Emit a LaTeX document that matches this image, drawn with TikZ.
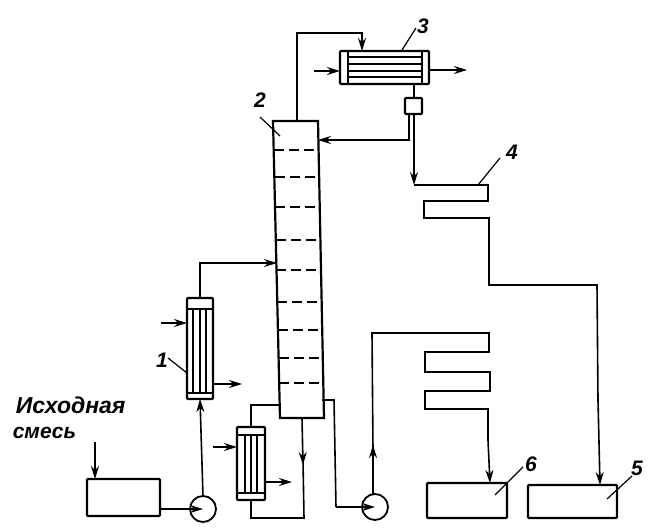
\documentclass[tikz,border=0pt]{standalone}
\usepackage{fontspec}
\setmainfont{Liberation Sans}
\usetikzlibrary{arrows.meta,positioning}

\begin{document}
\begin{tikzpicture}[
        x=1pt, y=-1pt,
        every path/.style={line width=1.6pt},
        flow/.style={-{Stealth[length=13pt,width=8pt]}},
        vessel/.style={draw, line width=2.2pt, inner sep=0pt, outer sep=0pt, rounded corners=1pt},
        pump/.style={draw, circle, line width=1.8pt, minimum size=26pt, inner sep=0pt, outer sep=0pt},
        tube/.style={line width=1.3pt},
        tray/.style={line width=1.7pt, dash pattern=on 10pt off 5pt},
        leader/.style={line width=1.2pt},
        tag/.style={font=\itshape\bfseries\fontsize{21}{23}\selectfont, inner sep=0pt}
    ]
  \useasboundingbox (0,0) rectangle (656,532);

  % Column
  \coordinate (coltl) at (273,121);
  \coordinate (coltr) at (318,121);
  \coordinate (colbr) at (324,418);
  \coordinate (colbl) at (280,418);
  \draw[line width=2.2pt] (coltl) -- (coltr) -- (colbr) -- (colbl) -- cycle;
  \foreach \y/\xa/\xb in {150/274/318, 177/275/319, 207/275/319, 240/276/320, 270/276/320,
                          302/277/321, 330/278/322, 358/279/323, 383/279/323}
    \draw[tray] (\xa,\y) -- (\xb,\y);

  % Exchangers
  \node (hxc) [vessel, minimum width=89pt, minimum height=33pt] at (384.5,67.5) {};
  \node (hxa) [vessel, minimum width=26pt, minimum height=101pt] at (200,348.5) {};
  \node (hxb) [vessel, minimum width=28pt, minimum height=73pt] at (251,463.5) {};
  \foreach \x in {348,422}
    \draw[tube, line width=1.8pt] (\x,51) -- (\x,84);
  \foreach \y in {57,64,71,77}
    \draw[tube] (348,\y) -- (422,\y);
  \foreach \y in {309,393}
    \draw[tube, line width=1.8pt] (187,\y) -- (213,\y);
  \foreach \x in {193,200,206}
    \draw[tube] (\x,309) -- (\x,393);
  \foreach \y in {435,493}
    \draw[tube, line width=1.8pt] (237,\y) -- (265,\y);
  \foreach \x in {245,251,257}
    \draw[tube] (\x,435) -- (\x,493);

  % Tanks and pumps
  \node (feed) [vessel, minimum width=73pt, minimum height=37pt] at (123.5,497.5) {};
  \node (tankf) [vessel, minimum width=80pt, minimum height=35pt] at (467,500.5) {};
  \node (tanke) [vessel, minimum width=89pt, minimum height=33pt] at (572.5,501.5) {};
  \node (pumpa) [pump] at (203,509) {};
  \node (pumpb) [pump] at (375,507) {};
  \node (trap) [vessel, minimum width=17pt, minimum height=16pt] at (413.5,106) {};

  % Free ends
  \coordinate (feedin) at (95,442);
  \coordinate (hxain) at (161,323);
  \coordinate (hxaout) at (242,384);
  \coordinate (hxbin) at (213,447);
  \coordinate (hxbout) at (292,482);
  \coordinate (hxcin) at (314,71);
  \coordinate (hxcout) at (467,70);

  % Flows
  \draw[flow] (feedin) -- (feedin |- feed.north);
  \draw[flow] (feed.east |- pumpa) -- (pumpa.center);
  \draw[flow] (pumpa.north) -- (hxa.south);
  \draw[flow] (hxa.north) |- (277,263);
  \draw[flow] (hxain) -- (hxain -| hxa.west);
  \draw[flow] (hxaout -| hxa.east) -- (hxaout);
  \draw (hxb.north) |- (279,405);
  \draw[flow] (hxbin) -- (hxbin -| hxb.west);
  \draw[flow] (hxbout -| hxb.east) -- (hxbout);
  \draw[flow] (302,418) -- (303,465);
  \draw (303,460) -- (304,518) -| (hxb.south);
  \draw[flow] (297,121) |- (362,33) -- (362,51);
  \draw[flow] (hxcin) -- (hxcin -| hxc.west);
  \draw[flow] (hxcout -| hxc.east) -- (hxcout);
  \draw (414,84) -- (414,98);
  \draw[flow] (409,114) |- (318,140);
  \draw[flow] (414,114) -- (414,185);
  \draw (414,185) -- (488,185) -- (488,201) -- (424,201) -- (424,218) -- (489,218)
      -- (489,285) -- (597,285) -- (598,400);
  \draw[flow] (598,400) -- (600,485);
  \draw (322,400) -- (334,400) -- (336,507);
  \draw[flow] (336,507) -- (pumpb.center);
  \draw[flow] (373,494) -- (373,445);
  \draw (373,450) -- (372,333) -- (489,333) -- (489,352) -- (425,352) -- (425,372)
      -- (490,372) -- (490,391) -- (425,391) -- (425,409) -- (488,409) -- (488,440);
  \draw[flow] (488,440) -- (490,483);

  % Labels
  \node (labela) [tag] at (162,360) {1};
  \node (labelb) [tag] at (260,100) {2};
  \node (labelc) [tag] at (423,26) {3};
  \node (labeld) [tag] at (512,152) {4};
  \node (labele) [tag] at (637,468) {5};
  \node (labelf) [tag] at (531,464) {6};
  \node (feedtop) [tag, anchor=west, font=\itshape\bfseries\fontsize{23}{25}\selectfont] at (15,405) {Исходная};
  \node (feedbot) [tag, anchor=west] at (12,433) {смесь};
  \draw[leader] (168,358) -- (187,373);
  \draw[leader] (260,117) -- (280,136);
  \draw[leader] (416,28) -- (402,50);
  \draw[leader] (500,158) -- (478,185);
  \draw[leader] (632,476) -- (607,499);
  \draw[leader] (523,467) -- (495,495);
\end{tikzpicture}
\end{document}
